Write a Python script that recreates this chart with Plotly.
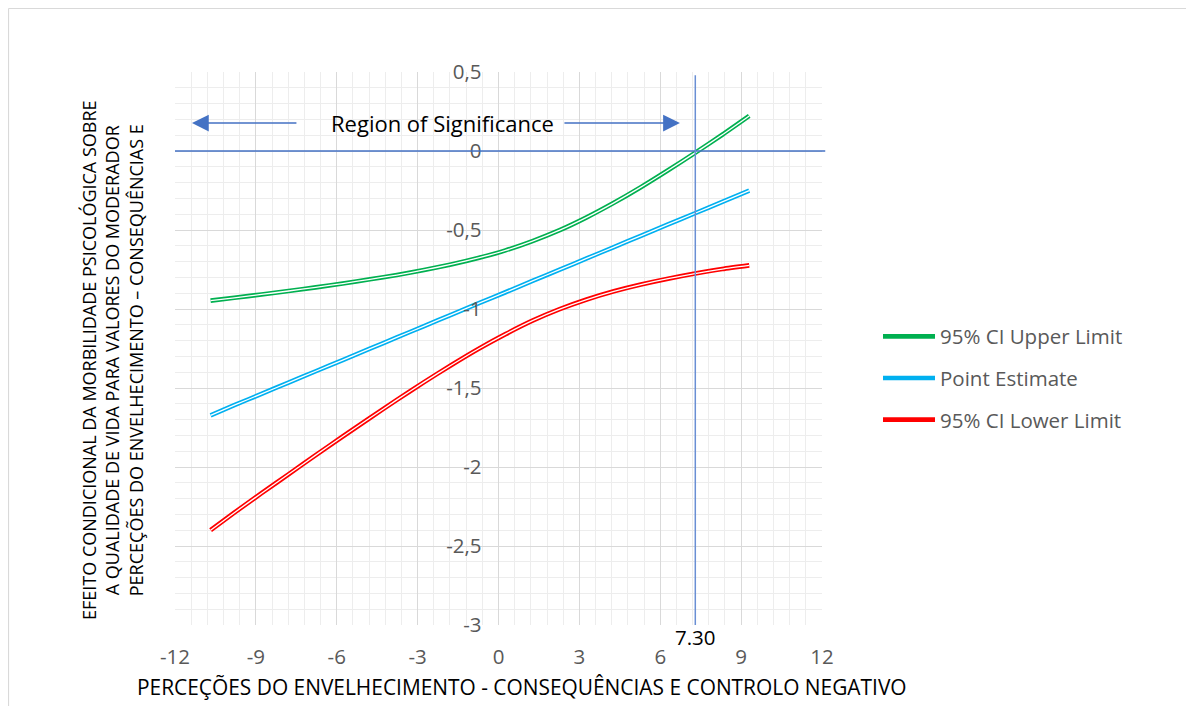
import plotly.graph_objects as go

# ---- data ----
moderator = [-10.68, -9.80, -8.79, -7.79, -6.78, -5.78, -4.77, -3.77, -2.76, -1.76,
             -0.75, 0.26, 1.26, 2.27, 3.27, 4.28, 5.28, 6.29, 7.29, 8.30, 9.30]
upper = [-0.947, -0.929, -0.908, -0.886, -0.863, -0.839, -0.812, -0.785, -0.753, -0.718,
         -0.677, -0.629, -0.570, -0.501, -0.420, -0.328, -0.229, -0.122, -0.012, 0.103, 0.222]
point = [-1.673, -1.609, -1.537, -1.466, -1.394, -1.323, -1.251, -1.180, -1.108, -1.037,
         -0.965, -0.894, -0.822, -0.751, -0.680, -0.608, -0.537, -0.465, -0.394, -0.322, -0.251]
lower = [-2.400, -2.289, -2.166, -2.046, -1.925, -1.807, -1.690, -1.575, -1.463, -1.356,
         -1.253, -1.159, -1.074, -1.001, -0.940, -0.888, -0.845, -0.808, -0.776, -0.747, -0.724]

series_names = ["95% CI Upper Limit", "Point Estimate", "95% CI Lower Limit"]
series_colors = ["#00B050", "#00B0F0", "#FF0000"]

x_ticks = [-12, -9, -6, -3, 0, 3, 6, 9, 12]
y_ticks = [0.5, 0, -0.5, -1, -1.5, -2, -2.5, -3]
y_tick_labels = ["0,5", "0", "-0,5", "-1", "-1,5", "-2", "-2,5", "-3"]

jn_point = 7.30
jn_label = "7.30"
arrow_y = 0.177
arrow_left = (-7.44, -11.37)
arrow_right = (2.39, 6.73)
region_text_x = -2.06

x_title = "PERCEÇÕES DO ENVELHECIMENTO - CONSEQUÊNCIAS E CONTROLO NEGATIVO"
y_title = ("EFEITO CONDICIONAL DA MORBILIDADE PSICOLÓGICA SOBRE<br>"
           "A QUALIDADE DE VIDA PARA VALORES DO MODERADOR<br>"
           "PERCEÇÕES DO ENVELHECIMENTO – CONSEQUÊNCIAS E")

FONT = "Open Sans"
REF_BLUE = "#4472C4"

# page body has an 8px margin: figure origin sits at (8, 8)
OFF = 8
PL, PT, PW, PH = 175, 72, 647, 553   # plot area in window pixels


def px_x(p):
    return (p - PL) / PW


def px_y(p):
    return (PT + PH - p) / PH


fig = go.Figure()

fig.add_shape(type="line", xref="paper", yref="y", x0=0, x1=1.005, y0=0, y1=0,
              line=dict(color=REF_BLUE, width=1.5), layer="above")
fig.add_shape(type="line", xref="x", yref="y", x0=jn_point, x1=jn_point, y0=-3, y1=0.48,
              line=dict(color="#6a8fd4", width=1.5), layer="above")

for name, col, ys in zip(series_names, series_colors, [upper, point, lower]):
    fig.add_trace(go.Scatter(x=moderator, y=ys, mode="lines", name=name,
                             line=dict(color=col, width=4.6, shape="spline", smoothing=0.6),
                             legendgroup=name))
for name, ys in zip(series_names, [upper, point, lower]):
    fig.add_trace(go.Scatter(x=moderator, y=ys, mode="lines", showlegend=False,
                             hoverinfo="skip",
                             line=dict(color="white", width=1.3, shape="spline", smoothing=0.6),
                             legendgroup=name))

for tail, head in [arrow_left, arrow_right]:
    fig.add_annotation(x=head, y=arrow_y, ax=tail, ay=arrow_y, xref="x", yref="y",
                       axref="x", ayref="y", showarrow=True, arrowhead=2, arrowsize=2.4,
                       arrowwidth=1.4, arrowcolor=REF_BLUE, text="")
fig.add_annotation(x=region_text_x, y=arrow_y, xref="x", yref="y", text="Region of Significance",
                   showarrow=False, xanchor="center", yanchor="middle",
                   font=dict(family=FONT, size=22, color="#000000"))
fig.add_annotation(x=jn_point, y=-3, xref="x", yref="y", yshift=-12, text=jn_label,
                   showarrow=False, xanchor="center", yanchor="middle",
                   font=dict(family=FONT, size=20.5, color="#000000"))

fig.add_annotation(x=px_x(522), y=px_y(687), xref="paper", yref="paper",
                   text=x_title, showarrow=False, xanchor="center", yanchor="middle",
                   font=dict(family=FONT, size=20.9, color="#000000"))
fig.add_annotation(x=px_x(113), y=px_y(360), xref="paper", yref="paper",
                   text=y_title, showarrow=False, textangle=-90, xanchor="center",
                   yanchor="middle",
                   font=dict(family=FONT, size=18, color="#000000"))

# chart-area border (top and left edges)
fig.add_shape(type="line", xref="paper", yref="paper", x0=px_x(8.5), x1=px_x(1194),
              y0=px_y(8.5), y1=px_y(8.5), line=dict(color="#d9d9d9", width=1.2))
fig.add_shape(type="line", xref="paper", yref="paper", x0=px_x(8.5), x1=px_x(8.5),
              y0=px_y(8.5), y1=px_y(720), line=dict(color="#d9d9d9", width=1.2))

fig.update_layout(
    width=1194 - OFF, height=706 - OFF,
    margin=dict(l=PL - OFF, r=1194 - OFF - (PL - OFF) - PW, t=PT - OFF,
                b=706 - OFF - (PT - OFF) - PH, pad=0),
    paper_bgcolor="white", plot_bgcolor="white",
    showlegend=True,
    legend=dict(x=px_x(878), y=px_y(378), xanchor="left", yanchor="middle",
                font=dict(family=FONT, size=20.5, color="#595959"), itemwidth=52,
                tracegroupgap=12, traceorder="grouped", bgcolor="rgba(0,0,0,0)"),
    xaxis=dict(range=[-12, 12], tickmode="array", tickvals=x_ticks,
               ticktext=[str(v) for v in x_ticks],
               showgrid=True, gridcolor="#d9d9d9", gridwidth=1.2,
               minor=dict(tickmode="linear", tick0=-12, dtick=0.6, showgrid=True,
                          gridcolor="#ededed", gridwidth=1),
               zeroline=False, showline=False, ticks="", ticklabelstandoff=17,
               tickfont=dict(family=FONT, size=20.5, color="#595959"), fixedrange=True),
    yaxis=dict(range=[-3, 0.5], tickmode="array", tickvals=y_ticks, ticktext=y_tick_labels,
               showgrid=True, gridcolor="#d9d9d9", gridwidth=1.2,
               minor=dict(tickmode="linear", tick0=-3, dtick=0.1, showgrid=True,
                          gridcolor="#ededed", gridwidth=1),
               zeroline=False, showline=False, ticks="",
               anchor="free", position=0.5, ticklabelstandoff=17,
               tickfont=dict(family=FONT, size=20.5, color="#595959"), fixedrange=True),
)

fig.write_html("out.html")
